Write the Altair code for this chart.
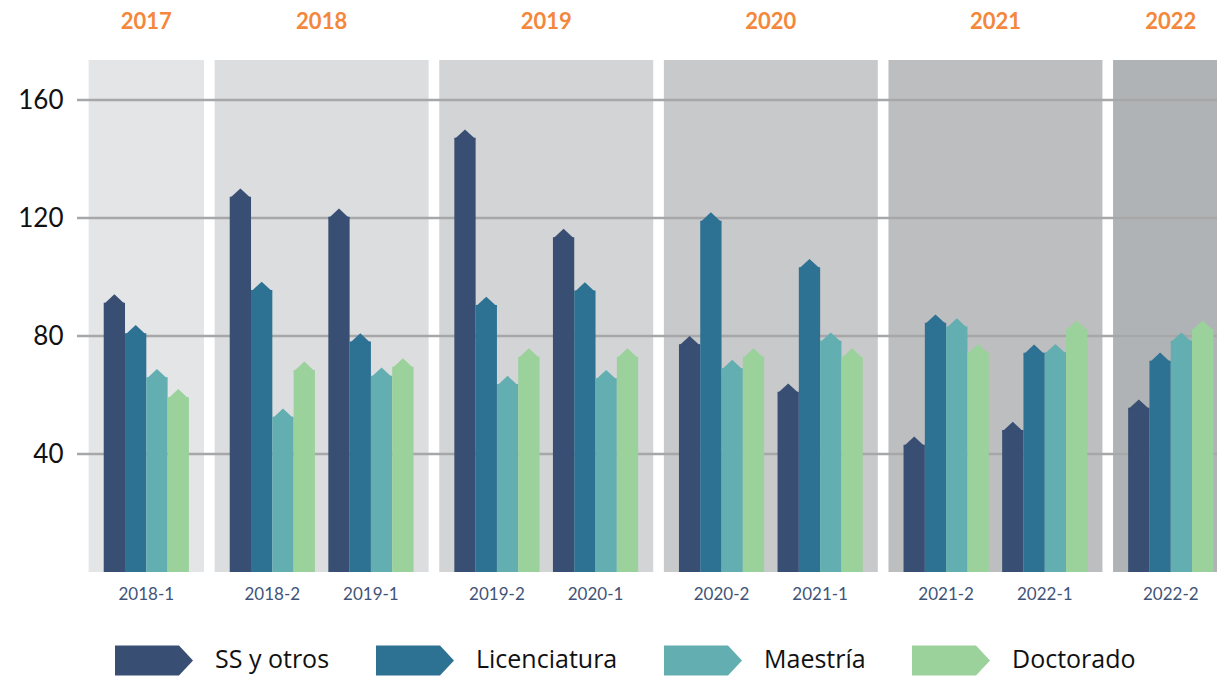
import altair as alt
import pandas as pd

# ---------------- data ----------------
periods = ["2018-1", "2018-2", "2019-1", "2019-2", "2020-1",
           "2020-2", "2021-1", "2021-2", "2022-1", "2022-2"]
period_year = ["2017", "2018", "2018", "2019", "2019",
               "2020", "2020", "2021", "2021", "2022"]
years = ["2017", "2018", "2019", "2020", "2021", "2022"]
series = ["SS y otros", "Licenciatura", "Maestría", "Doctorado"]

ss_otros = [91.3, 127.2, 120.4, 147.2, 113.5, 77.2, 61.1, 43.1, 48.1, 55.7]
licenciatura = [80.9, 95.6, 78.1, 90.5, 95.4, 119.1, 103.3, 84.5, 74.3, 71.6]
maestria = [66.0, 52.6, 66.5, 63.7, 65.7, 69.1, 78.4, 83.2, 74.5, 78.4]
doctorado = [59.2, 68.5, 69.6, 73.0, 73.0, 73.0, 73.0, 74.5, 82.4, 82.4]

y_ticks = [40, 80, 120, 160]

# ---------------- styles ----------------
series_colors = ["#394e73", "#2d7193", "#62aeb0", "#9bd19b"]
panel_colors = ["#e4e5e7", "#dcdddf", "#d3d4d6", "#c8c9cb", "#bdbec0", "#b0b3b5"]
W, H = 1140, 512
GAP = 0.278      # extra space between year panels (in group units)
BW = 0.216       # bar width (in group units)
PAD = 0.585      # half width of panel around a group (in group units)

# ---------------- tables ----------------
values = [ss_otros, licenciatura, maestria, doctorado]
rows = []
for i, p in enumerate(periods):
    for k, s in enumerate(series):
        rows.append({"period": p, "year": period_year[i], "serie": s,
                     "value": values[k][i], "pi": i,
                     "yi": years.index(period_year[i]), "si": k})
df = pd.DataFrame(rows)
df_periods = pd.DataFrame({"period": periods, "year": period_year,
                           "pi": list(range(len(periods))),
                           "yi": [years.index(y) for y in period_year]})
df_ticks = pd.DataFrame({"value": y_ticks})

xscale = alt.Scale(domain=[-0.703, 10.859], nice=False, zero=False)
yscale = alt.Scale(domain=[0, 173.56], nice=False, zero=False)
yaxis = alt.Axis(values=y_ticks, grid=False, domain=False, ticks=False,
                 labelFontSize=26, labelFont="Lato", labelColor="#111111",
                 labelPadding=14, title=None)

u_expr = f"datum.pi + {GAP} * datum.yi"

panels = alt.Chart(df_periods).transform_calculate(
    u=u_expr
).transform_aggregate(
    umin="min(u)", umax="max(u)", groupby=["year"]
).transform_calculate(
    x1=f"datum.umin - {PAD}", x2=f"datum.umax + {PAD}"
).mark_rect(clip=True).encode(
    x=alt.X("x1:Q", scale=xscale, axis=None),
    x2="x2:Q",
    y=alt.value(0),
    y2=alt.value(H),
    fill=alt.Fill("year:N", scale=alt.Scale(domain=years, range=panel_colors), legend=None),
)

grid = alt.Chart(df_ticks).mark_rule(color="#a6a7a9", strokeWidth=2.4).encode(
    y=alt.Y("value:Q", scale=yscale, axis=yaxis)
)

bar_base = alt.Chart(df).transform_calculate(
    u=f"{u_expr} + (datum.si - 1.5) * {BW}"
).transform_calculate(
    bx1=f"datum.u - {BW / 2}", bx2=f"datum.u + {BW / 2}"
)

arrow = "M-1,-0.385L0.64,-0.385L1,0L0.64,0.385L-1,0.385Z"
bars = bar_base.mark_rect().encode(
    x=alt.X("bx1:Q", scale=xscale, axis=None),
    x2="bx2:Q",
    y=alt.Y("value:Q", scale=yscale, axis=yaxis),
    y2=alt.datum(0),
    color=alt.Color("serie:N", scale=alt.Scale(domain=series, range=series_colors),
                    legend=alt.Legend(title=None, orient="none", legendX=38, legendY=561,
                                      direction="horizontal", symbolType=arrow,
                                      symbolSize=6084, symbolStrokeWidth=0,
                                      symbolOpacity=1, labelFontSize=25,
                                      labelFont="Open Sans", labelColor="#111111",
                                      labelOffset=22, columnPadding=46, labelLimit=400)),
)

tip_half = (BW / 2) * (W / (10.859 + 0.703))
tips = bar_base.mark_point(
    shape="M-1,0.15L0,-0.78L1,0.15Z", filled=True, opacity=1, strokeWidth=0,
    size=(2 * tip_half) ** 2
).encode(
    x=alt.X("u:Q", scale=xscale, axis=None),
    y=alt.Y("value:Q", scale=yscale, axis=yaxis),
    color=alt.Color("serie:N", scale=alt.Scale(domain=series, range=series_colors), legend=None),
)

year_labels = alt.Chart(df_periods).transform_calculate(
    u=u_expr
).transform_aggregate(
    umin="min(u)", umax="max(u)", groupby=["year"]
).transform_calculate(
    xc="(datum.umin + datum.umax) / 2"
).mark_text(font="Lato", fontWeight="bold", fontSize=22, color="#f4873b",
            baseline="middle").encode(
    x=alt.X("xc:Q", scale=xscale, axis=None),
    y=alt.value(-38),
    text="year:N",
)

period_labels = alt.Chart(df_periods).transform_calculate(
    u=u_expr
).mark_text(font="Lato", fontSize=17, color="#3f5478", baseline="middle").encode(
    x=alt.X("u:Q", scale=xscale, axis=None),
    y=alt.value(H + 23),
    text="period:N",
)

chart = alt.layer(panels, grid, bars, tips, year_labels, period_labels).resolve_scale(
    color="independent", fill="independent"
).properties(
    width=W, height=H,
    padding={"left": 69, "top": 52, "right": 0, "bottom": 104},
    autosize=alt.AutoSizeParams(type="none"),
    background="white",
).configure_view(stroke=None)

chart.save("out.html", embed_options={"renderer": "svg", "actions": False})
